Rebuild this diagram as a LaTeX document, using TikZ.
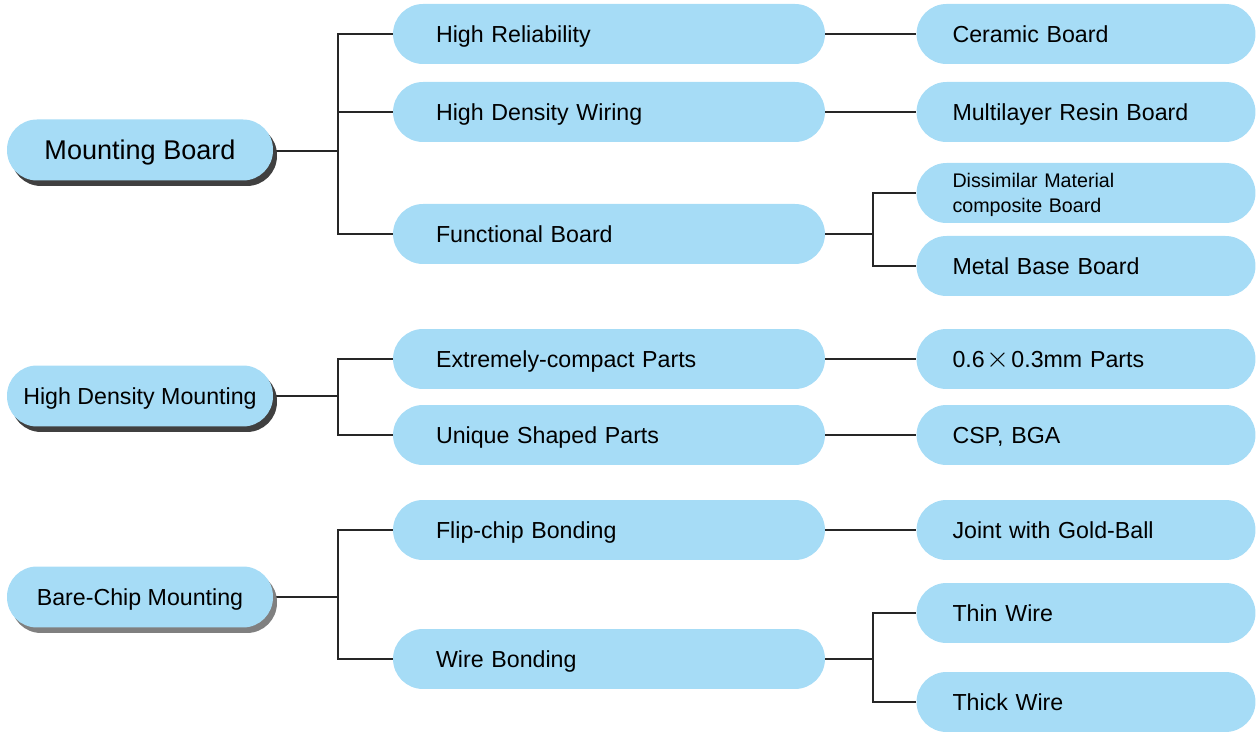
\documentclass[tikz,border=0pt]{standalone}
\usepackage{fontspec}
\setmainfont{Liberation Sans}
\usetikzlibrary{shadows,backgrounds}
\definecolor{boardblue}{RGB}{166,220,246}
\definecolor{shadowdark}{RGB}{64,64,64}
\definecolor{shadowgray}{RGB}{128,128,128}

\tikzset{
  topic/.style={fill=boardblue, rounded corners=0.6cm, minimum width=5.32cm, minimum height=1.22cm,
    inner sep=0pt, align=center, text depth=0pt},
  darkshadow/.style={drop shadow={shadow xshift=0.08cm, shadow yshift=-0.11cm, fill=shadowdark, opacity=1}},
  grayshadow/.style={drop shadow={shadow xshift=0.08cm, shadow yshift=-0.11cm, fill=shadowgray, opacity=1}},
  midbox/.style={fill=boardblue, rounded corners=0.6cm, minimum width=8.64cm, minimum height=1.2cm,
    inner xsep=0.86cm, inner ysep=0pt, text width=6.92cm, align=left, font=\fontsize{13.2}{15}\selectfont,
    text height=9.45pt, text depth=0pt},
  endbox/.style={fill=boardblue, rounded corners=0.6cm, minimum width=6.78cm, minimum height=1.2cm,
    inner xsep=0.72cm, inner ysep=0pt, text width=5.34cm, align=left, font=\fontsize{13.2}{15}\selectfont,
    text height=9.45pt, text depth=0pt},
  link/.style={line width=0.6pt, black!85}
}
\newcommand{\bigtimes}{\hspace{0.08em}\scalebox{1.4}{$\times$}\hspace{0.08em}}

\begin{document}
\begin{tikzpicture}[x=0.02cm, y=-0.02cm]
\useasboundingbox (0,0) rectangle (1258,732);

% Left topics
\node[topic, darkshadow, font=\fontsize{15.4}{18}\selectfont, text height=11pt] (mb) at (140,150) {Mounting Board};
\node[topic, darkshadow, font=\fontsize{13.2}{16}\selectfont, text height=9.45pt] (hdm) at (140,396) {High Density Mounting};
\node[topic, grayshadow, font=\fontsize{13.2}{16}\selectfont, text height=9.45pt] (bcm) at (140,597) {Bare-Chip Mounting};

% Middle boxes
\node[midbox] (hr) at (609,34) {High Reliability};
\node[midbox] (hdw) at (609,112) {High Density Wiring};
\node[midbox] (fb) at (609,234) {Functional Board};
\node[midbox] (ecp) at (609,359) {Extremely-compact Parts};
\node[midbox] (usp) at (609,435) {Unique Shaped Parts};
\node[midbox] (fcb) at (609,530) {Flip-chip Bonding};
\node[midbox] (wb) at (609,659) {Wire Bonding};

% Right boxes
\node[endbox, font=\fontsize{11.2}{14}\selectfont, text height=8pt, text depth=14pt] (dmc) at (1086,193) {Dissimilar Material\\composite Board};
\node[endbox] (cb) at (1086,34) {Ceramic Board};
\node[endbox] (mrb) at (1086,112) {Multilayer Resin Board};
\node[endbox] (mbb) at (1086,266) {Metal Base Board};
\node[endbox] (pp) at (1086,359) {0.6\bigtimes0.3mm Parts};
\node[endbox] (csp) at (1086,435) {CSP, BGA};
\node[endbox] (jgb) at (1086,530) {Joint with Gold-Ball};
\node[endbox] (tw) at (1086,613) {Thin Wire};
\node[endbox] (tkw) at (1086,702) {Thick Wire};

% Junctions
\coordinate (j1) at (338,151);
\coordinate (j2) at (338,396);
\coordinate (j3) at (338,597);
\coordinate (j4) at (873,234);
\coordinate (j5) at (873,659);

% Edges
\begin{scope}[on background layer]
\draw[link] (mb.east |- j1) -- (j1);
\draw[link] (j1) |- (hr);
\draw[link] (j1) |- (hdw);
\draw[link] (j1) |- (fb);
\draw[link] (hdm.east |- j2) -- (j2);
\draw[link] (j2) |- (ecp);
\draw[link] (j2) |- (usp);
\draw[link] (bcm.east |- j3) -- (j3);
\draw[link] (j3) |- (fcb);
\draw[link] (j3) |- (wb);
\draw[link] (hr) -- (cb);
\draw[link] (hdw) -- (mrb);
\draw[link] (fb) -- (j4);
\draw[link] (j4) |- (dmc);
\draw[link] (j4) |- (mbb);
\draw[link] (ecp) -- (pp);
\draw[link] (usp) -- (csp);
\draw[link] (fcb) -- (jgb);
\draw[link] (wb) -- (j5);
\draw[link] (j5) |- (tw);
\draw[link] (j5) |- (tkw);
\end{scope}
\end{tikzpicture}
\end{document}
